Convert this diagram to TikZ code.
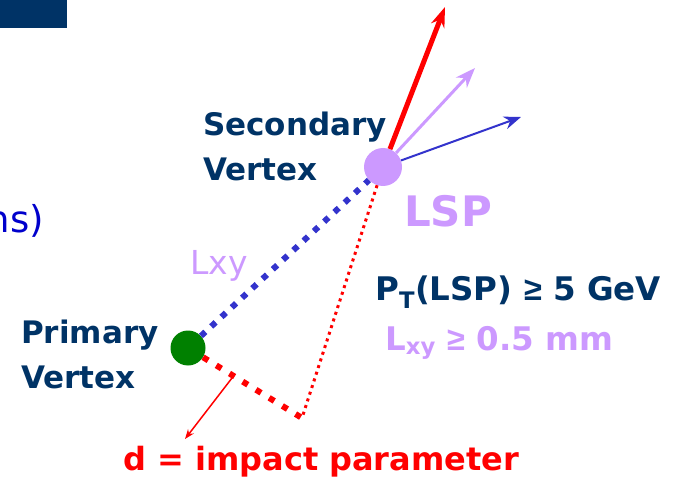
\documentclass[tikz,border=0pt]{standalone}
\usepackage{fontspec}
\setmainfont{DejaVu Sans}
\newfontfamily\symfont{Liberation Sans}
\usetikzlibrary{arrows.meta,positioning}

\definecolor{navy}{HTML}{003366}
\definecolor{lilac}{HTML}{CC99FF}
\definecolor{trackblue}{HTML}{3333CC}
\definecolor{vtxgreen}{HTML}{008000}
\definecolor{parenblue}{HTML}{0000CC}

\newcommand{\bigge}{{\symfont ≥}}

\tikzset{
  bigtext/.style={font=\fontsize{31}{45}\selectfont\bfseries,inner sep=0pt,align=left},
  cuttext/.style={font=\fontsize{32.5}{45}\selectfont\bfseries,inner sep=0pt},
  vertex/.style={circle,inner sep=0pt,minimum size=#1},
}

\begin{document}
\begin{tikzpicture}[x=1pt,y=-1pt,>=Stealth,line join=round]
    \useasboundingbox (0,0) rectangle (677,481);
    \fill[navy] (0,0) rectangle (67,28);
    \node[vertex=35pt,fill=vtxgreen] (pv) at (188,348) {};
    \node[vertex=38pt,fill=lilac] (sv) at (383,167) {};
    \coordinate (foot) at (302,418);
    \coordinate (dstart) at (232,378);
    \coordinate (dtip) at (185,439);
    \coordinate (redtip) at (445,7);
    \coordinate (liltip) at (475,68);
    \coordinate (bluetip) at (521,117);
    % tracks
    \draw[trackblue,line width=6pt,dash pattern=on 6pt off 8pt] (pv) -- (sv);
    \draw[red,line width=6pt,dash pattern=on 6pt off 9.5pt] (pv) -- (foot);
    \draw[red,line width=3pt,dash pattern=on 3pt off 4pt] (sv) -- (foot);
    \draw[->,red,line width=1.5pt] (dstart) -- (dtip);
    \draw[-{Stealth[length=20pt,width=14pt]},red,line width=5pt] (sv) -- (redtip);
    \draw[-{Stealth[length=20pt,width=15pt]},lilac,line width=3pt] (sv) -- (liltip);
    \draw[-{Stealth[length=17pt,width=13pt]},trackblue,line width=2pt] (sv) -- (bluetip);
    % labels
    \node[bigtext,navy,anchor=north west] (svlabel) at (203,112) {Secondary\\Vertex};
    \node[bigtext,navy,anchor=north west] (pvlabel) at (21,320) {Primary\\Vertex};
    \node[bigtext,lilac,anchor=north west,font=\fontsize{42}{50}\selectfont\bfseries] (lsp) at (404,195) {LSP};
    \node[bigtext,lilac,anchor=north west,font=\fontsize{33}{40}\selectfont] (lxy) at (190,250) {Lxy};
    \node[cuttext,navy,anchor=north west] (ptcut) at (375,276) {P\textsubscript{T}(LSP) \bigge{} 5 GeV};
    \node[cuttext,lilac,anchor=north west] (lxycut) at (385,326) {L\textsubscript{xy} \bigge{} 0.5 mm};
    \node[cuttext,red,anchor=north west,font=\fontsize{32}{45}\selectfont\bfseries] (dlabel) at (123,446) {d = impact parameter};
    \node[bigtext,parenblue,anchor=base east,font=\fontsize{37}{45}\selectfont] (ns) at (44,232) {ns)};
\end{tikzpicture}
\end{document}
